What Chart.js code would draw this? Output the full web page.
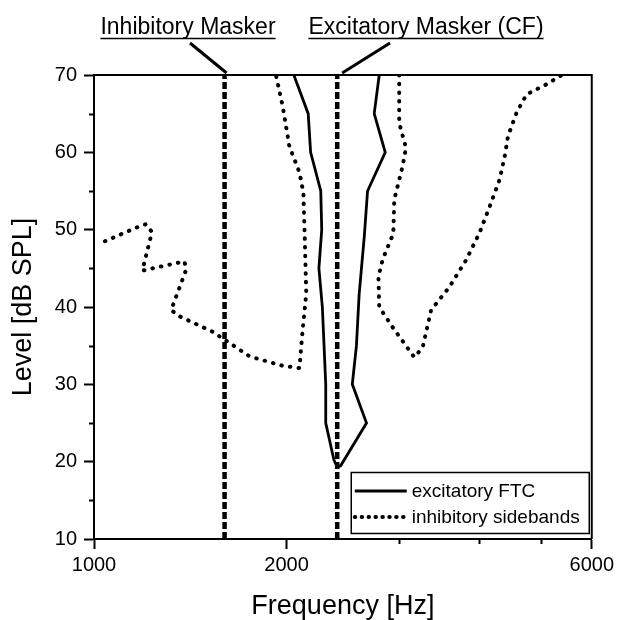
<!DOCTYPE html>
<html>
<head>
<meta charset="utf-8">
<script src="https://cdn.jsdelivr.net/npm/chart.js@4.4.1/dist/chart.umd.min.js"></script>
<style>
  html, body { margin: 0; padding: 0; background: #fff; }
</style>
</head>
<body>
<canvas id="chart" width="618" height="620"></canvas>
<script>
// ======= DATA =======
// excitatory FTC: down the low side, then back up the high side
const ftcFreq = [2053, 2162, 2181, 2262, 2270, 2247, 2275, 2289, 2303, 2303, 2372, 2401,
  2431, 2667, 2534, 2572, 2597, 2645, 2677, 2853, 2742, 2792];
const ftcLevel = [70, 65, 60, 55, 50, 45, 40, 35, 30, 25, 20.2, 19.3,
  19.5, 25, 30, 35, 41.6, 49, 55, 60, 65, 70];

// inhibitory sideband below CF
const lowFreq = [1040, 1175, 1205, 1232, 1190, 1385, 1393, 1320, 1360, 1533, 1752, 1972,
  2095, 2115, 2147, 2133, 2125, 2095, 2020, 1972, 1925];
const lowLevel = [48.5, 50.4, 50.7, 49.7, 44.7, 45.9, 44.8, 39.6, 38.8, 36.8, 33.6, 32.4,
  32.1, 36.2, 41.8, 50.4, 54.8, 57.4, 60.8, 66.0, 70];

// inhibitory sideband above CF
const highFreq = [3000, 3000, 3074, 3037, 2947, 2937, 2825, 2784, 2792, 2929, 3168, 3265,
  3365, 3595, 3819, 4006, 4155, 4307, 4386, 4439, 4576, 4745, 5099, 5389];
const highLevel = [70, 63.8, 60.6, 58.2, 53.9, 49.5, 46.1, 43.9, 40.0, 37.4, 33.5, 34.8,
  39.6, 42.6, 46.1, 49.6, 53.0, 56.5, 59.5, 62.1, 65.1, 67.5, 68.8, 70];

// masker frequencies (Hz)
const inhibMasker = 1600;
const excitMasker = 2400;

const xTicks = [1000, 2000, 3000, 4000, 5000, 6000];
const xLabeled = [1000, 2000, 6000];
const yRange = [10, 70];

const FONT = "'Liberation Sans', Arial, Helvetica, sans-serif";
const pts = (xs, ys) => xs.map((x, i) => ({ x, y: ys[i] }));

// ======= EXTRA DRAWING =======
const extras = {
  id: "extras",
  afterDraw(chart) {
    const { ctx, chartArea: a, scales } = chart;
    ctx.save();
    ctx.strokeStyle = "#000";
    ctx.fillStyle = "#000";

    // top + right frame
    ctx.lineWidth = 2;
    ctx.beginPath();
    ctx.moveTo(a.left, a.top);
    ctx.lineTo(a.right, a.top);
    ctx.lineTo(a.right, a.bottom);
    ctx.stroke();

    // minor ticks
    ctx.lineWidth = 2;
    for (let v = 15; v < 70; v += 10) {
      const py = Math.round(scales.y.getPixelForValue(v)) + 0.5;
      ctx.beginPath();
      ctx.moveTo(a.left, py);
      ctx.lineTo(a.left - 5, py);
      ctx.stroke();
    }
    xTicks.filter((v) => !xLabeled.includes(v)).forEach((v) => {
      const px = Math.round(scales.x.getPixelForValue(v)) + 0.5;
      ctx.beginPath();
      ctx.moveTo(px, a.bottom);
      ctx.lineTo(px, a.bottom + 5);
      ctx.stroke();
    });

    // masker labels with leader lines
    ctx.font = "23px " + FONT;
    ctx.textAlign = "center";
    ctx.textBaseline = "alphabetic";
    const labels = [
      { text: "Inhibitory Masker", cx: 188, f: inhibMasker, sx: 190, dx: 2 },
      { text: "Excitatory Masker (CF)", cx: 426, f: excitMasker, sx: 390, dx: 5 },
    ];
    labels.forEach((l) => {
      ctx.fillText(l.text, l.cx, 34);
      const w = ctx.measureText(l.text).width;
      ctx.lineWidth = 1.5;
      ctx.beginPath();
      ctx.moveTo(l.cx - w / 2, 38.5);
      ctx.lineTo(l.cx + w / 2, 38.5);
      ctx.stroke();
      ctx.lineWidth = 3;
      ctx.beginPath();
      ctx.moveTo(l.sx, 43);
      ctx.lineTo(scales.x.getPixelForValue(l.f) + l.dx, a.top - 2);
      ctx.stroke();
    });

    // legend box
    const bx = a.right - 241, by = a.bottom - 67, bw = 238, bh = 61;
    ctx.fillStyle = "#fff";
    ctx.fillRect(bx, by, bw, bh);
    ctx.lineWidth = 1.5;
    ctx.strokeRect(bx + 0.5, by + 0.5, bw, bh);
    ctx.fillStyle = "#000";
    ctx.font = "19px " + FONT;
    ctx.textAlign = "left";
    ctx.textBaseline = "middle";
    const rows = [
      { label: "excitatory FTC", ds: chart.data.datasets[0], y: by + 19 },
      { label: "inhibitory sidebands", ds: chart.data.datasets[1], y: by + 45 },
    ];
    rows.forEach((r) => {
      ctx.lineWidth = r.ds.borderWidth;
      ctx.lineCap = r.ds.borderCapStyle || "butt";
      ctx.setLineDash(r.ds.borderDash ? [0.5, 6.4] : []);
      ctx.beginPath();
      ctx.moveTo(bx + 4, r.y);
      ctx.lineTo(bx + 56, r.y);
      ctx.stroke();
      ctx.setLineDash([]);
      ctx.lineCap = "butt";
      ctx.fillText(r.label, bx + 61, r.y + 1);
    });
    ctx.restore();
  },
};

// ======= CHART =======
const dotted = {
  borderColor: "#000",
  borderWidth: 4,
  borderDash: [0.5, 8.2],
  borderCapStyle: "round",
  showLine: true,
  pointRadius: 0,
  fill: false,
};
const dashed = {
  borderColor: "#000",
  borderWidth: 4.5,
  borderDash: [7, 3],
  showLine: true,
  pointRadius: 0,
  fill: false,
};

new Chart(document.getElementById("chart"), {
  type: "scatter",
  data: {
    datasets: [
      {
        label: "excitatory FTC",
        data: pts(ftcFreq, ftcLevel),
        borderColor: "#000",
        borderWidth: 2.8,
        showLine: true,
        pointRadius: 0,
        fill: false,
      },
      { label: "inhibitory sidebands", data: pts(lowFreq, lowLevel), ...dotted },
      { label: "inhibitory sidebands high", data: pts(highFreq, highLevel), ...dotted },
      { label: "Inhibitory Masker", data: pts([inhibMasker, inhibMasker], yRange), ...dashed },
      { label: "Excitatory Masker (CF)", data: pts([excitMasker, excitMasker], yRange), ...dashed },
    ],
  },
  options: {
    responsive: false,
    animation: false,
    layout: { padding: { top: 75, right: 26, left: 0, bottom: 0 } },
    plugins: {
      legend: { display: false },
      tooltip: { enabled: false },
    },
    scales: {
      x: {
        type: "logarithmic",
        min: 1000,
        max: 6000,
        afterBuildTicks: (s) => {
          s.ticks = xTicks.map((v) => ({ value: v }));
        },
        afterFit: (s) => {
          s.height = 81;
        },
        border: { color: "#000", width: 2 },
        grid: {
          drawOnChartArea: false,
          tickLength: 10,
          tickWidth: 2,
          color: (c) => (c.tick && xLabeled.includes(c.tick.value) ? "#000" : "rgba(0,0,0,0)"),
        },
        ticks: {
          color: "#000",
          padding: 4,
          maxRotation: 0,
          autoSkip: false,
          font: { family: FONT, size: 20 },
          callback: (v) => (xLabeled.includes(v) ? String(v) : ""),
        },
        title: {
          display: true,
          text: "Frequency [Hz]",
          color: "#000",
          font: { family: FONT, size: 27, lineHeight: 1 },
          padding: { top: 0, bottom: 0 },
        },
      },
      y: {
        min: 10,
        max: 70,
        afterFit: (s) => {
          s.width = 94;
        },
        border: { color: "#000", width: 2 },
        grid: {
          drawOnChartArea: false,
          tickLength: 10,
          tickWidth: 2,
          color: (c) => (c.tick && c.tick.value % 10 === 0 ? "#000" : "rgba(0,0,0,0)"),
        },
        ticks: {
          stepSize: 5,
          color: "#000",
          padding: 7,
          font: { family: FONT, size: 20 },
          callback: (v) => (v % 10 === 0 ? String(v) : ""),
        },
        title: {
          display: true,
          text: "Level [dB SPL]",
          color: "#000",
          font: { family: FONT, size: 27, lineHeight: 1 },
          padding: { top: 10, bottom: 0 },
        },
      },
    },
  },
  plugins: [extras],
});
</script>
</body>
</html>
